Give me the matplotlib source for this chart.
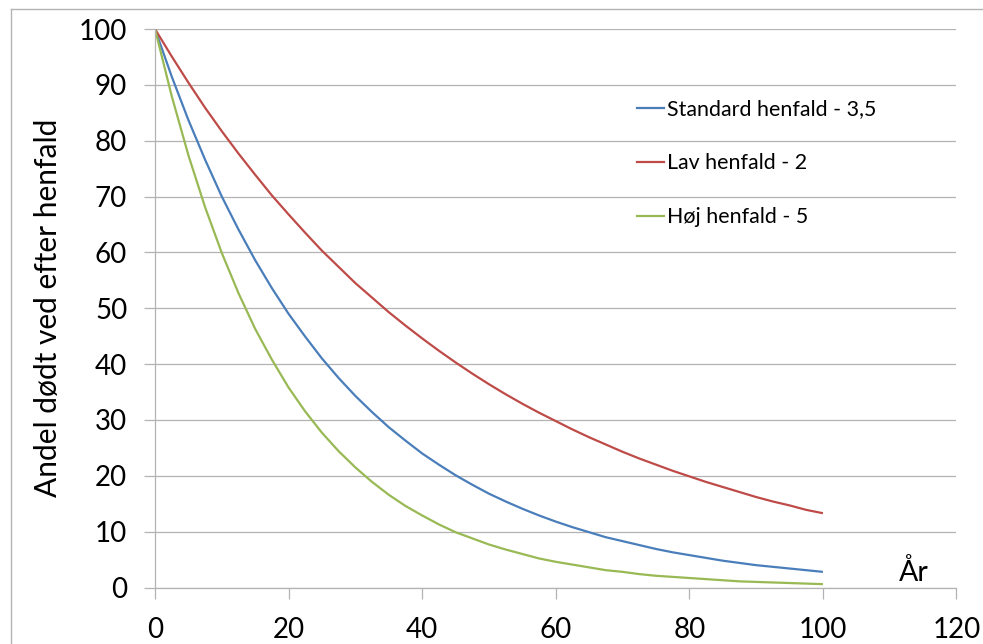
import matplotlib
matplotlib.use("Agg")
import matplotlib.pyplot as plt
from matplotlib.lines import Line2D

# years (read every 2.5 years off the chart)
years = [0, 2.5, 5, 7.5, 10, 12.5, 15, 17.5, 20, 22.5, 25, 27.5, 30, 32.5, 35,
         37.5, 40, 42.5, 45, 47.5, 50, 52.5, 55, 57.5, 60, 62.5, 65, 67.5, 70,
         72.5, 75, 77.5, 80, 82.5, 85, 87.5, 90, 92.5, 95, 97.5, 100]

# share of dead wood remaining, per decay rate
standard = [100, 91.5, 83.7, 76.6, 70.0, 64.1, 58.6, 53.6, 49.0, 44.9, 41.0,
            37.5, 34.3, 31.4, 28.7, 26.3, 24.0, 22.0, 20.1, 18.4, 16.8, 15.4,
            14.1, 12.9, 11.8, 10.8, 9.9, 9.0, 8.3, 7.6, 6.9, 6.3, 5.8, 5.3,
            4.8, 4.4, 4.0, 3.7, 3.4, 3.1, 2.8]
low = [100, 95.1, 90.4, 85.9, 81.7, 77.7, 73.9, 70.2, 66.8, 63.5, 60.3,
       57.4, 54.5, 51.9, 49.3, 46.9, 44.6, 42.4, 40.3, 38.3, 36.4, 34.6,
       32.9, 31.3, 29.8, 28.3, 26.9, 25.6, 24.3, 23.1, 22.0, 20.9, 19.9,
       18.9, 18.0, 17.1, 16.2, 15.4, 14.7, 13.9, 13.3]
high = [100, 88.0, 77.4, 68.1, 59.9, 52.7, 46.3, 40.8, 35.8, 31.5, 27.7,
        24.4, 21.5, 18.9, 16.6, 14.6, 12.9, 11.3, 9.9, 8.8, 7.7, 6.8, 6.0,
        5.2, 4.6, 4.1, 3.6, 3.1, 2.8, 2.4, 2.1, 1.9, 1.7, 1.5, 1.3, 1.1,
        1.0, 0.9, 0.8, 0.7, 0.6]

labels = ["Standard henfald - 3,5", "Lav henfald - 2", "Høj henfald - 5"]
colors = ["#4a7ebb", "#be4b48", "#98b954"]

plt.rcParams['font.family'] = ['Lato', 'DejaVu Sans']
grid_col = "#b3b3b3"

fig = plt.figure(figsize=(9.83, 6.44), dpi=100)
ax = fig.add_axes([155/983, 1 - 587.5/644, 801.5/983, 558.5/644])

for ys, lab, col in zip([standard, low, high], labels, colors):
    ax.plot(years, ys, color=col, lw=1.6, label=lab, solid_capstyle='butt')

ax.set_xlim(0, 120)
ax.set_ylim(0, 100)
ax.set_xticks(range(0, 121, 20))
ax.set_yticks(range(0, 101, 10))
ax.grid(axis='y', color=grid_col, lw=0.9)
ax.grid(axis='x', visible=False)
ax.set_axisbelow(True)

for side in ['top', 'right']:
    ax.spines[side].set_visible(False)
for side in ['left', 'bottom']:
    ax.spines[side].set_color(grid_col)
    ax.spines[side].set_linewidth(0.9)

ax.tick_params(axis='y', length=8, width=0.9, color=grid_col, labelsize=20, pad=12)
ax.tick_params(axis='x', length=8, width=0.9, color=grid_col, labelsize=20, pad=13)
ax.set_ylabel("Andel dødt ved efter henfald", fontsize=21.5, labelpad=12)

ax.text(113.6, 1.2, "År", fontsize=20.5, ha='center', va='baseline')

handles = [Line2D([0], [0], color=c, lw=1.6) for c in colors]
leg = ax.legend(handles, labels, loc='upper left', bbox_to_anchor=(0.591, 0.89),
                frameon=False, fontsize=15.4, handlelength=1.26, handletextpad=0.14,
                labelspacing=1.6, borderaxespad=0)

# outer chart border
fig.add_artist(Line2D([11/983, 11/983], [0, 1 - 9/644], transform=fig.transFigure,
                      color=grid_col, lw=1))
fig.add_artist(Line2D([11/983, 1], [1 - 9/644, 1 - 9/644], transform=fig.transFigure,
                      color=grid_col, lw=1))

fig.savefig("out.png", dpi=100)
